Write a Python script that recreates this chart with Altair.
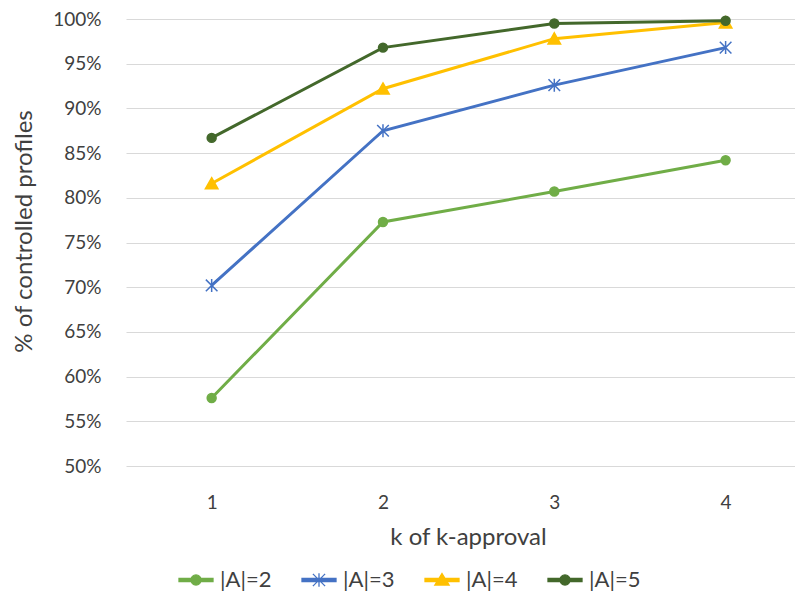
import altair as alt
import pandas as pd

k_values = [1, 2, 3, 4]
series_names = ["|A|=2", "|A|=3", "|A|=4", "|A|=5"]
a2 = [57.6, 77.3, 80.7, 84.2]
a3 = [70.2, 87.5, 92.6, 96.8]
a4 = [81.6, 92.2, 97.8, 99.6]
a5 = [86.7, 96.8, 99.5, 99.8]
colors = ["#70AD47", "#4472C4", "#FFC000", "#43682B"]
y_ticks = [0.50, 0.55, 0.60, 0.65, 0.70, 0.75, 0.80, 0.85, 0.90, 0.95, 1.00]

rows = []
for name, vals in zip(series_names, [a2, a3, a4, a5]):
    for k, v in zip(k_values, vals):
        rows.append({"k": k, "pct": v / 100.0, "series": name})
df = pd.DataFrame(rows)

FONT = "Lato"
TXT = "#404040"

# marker shapes for the plot
STAR = "M-1.3,-1.3L1.3,1.3M-1.3,1.3L1.3,-1.3M0,-1.45V1.45"
TRI = "M0,-1.3L1.4,1.2L-1.4,1.2Z"
shape_range = ["circle", STAR, TRI, "circle"]

# legend symbols: short line + marker
L_LINE = "M-1,-0.088H1V0.088H-1Z"
L_CIRC = "M-0.3,0A0.3,0.3 0 1,1 0.3,0A0.3,0.3 0 1,1 -0.3,0Z"
L_STAR = "M-0.36,-0.36L0.36,0.36M-0.36,0.36L0.36,-0.36M0,-0.4V0.4"
L_TRI = "M0,-0.38L0.42,0.3L-0.42,0.3Z"
legend_shapes = [L_LINE + L_CIRC, L_LINE + L_STAR, L_LINE + L_TRI, L_LINE + L_CIRC]

color_scale = alt.Scale(domain=series_names, range=colors)

x_enc = alt.X(
    "k:Q",
    scale=alt.Scale(domain=[0.5, 4.405], nice=False, zero=False),
    axis=alt.Axis(
        values=k_values, format="d", grid=False, domain=False, ticks=False, tickSize=0,
        labelPadding=27, title="k of k-approval", titleX=342, titleY=71,
        titleBaseline="middle",
    ),
)
y_enc = alt.Y(
    "pct:Q",
    scale=alt.Scale(domain=[0.5, 1.0], nice=False, zero=False),
    axis=alt.Axis(
        values=y_ticks, format=".0%", grid=True, domain=False, ticks=False, tickSize=0,
        labelPadding=25, title="% of controlled profiles", titleX=-102, titleY=212,
        titleBaseline="middle", titleAngle=-90,
    ),
)

lines = alt.Chart(df).mark_line(strokeWidth=3).encode(
    x=x_enc,
    y=y_enc,
    color=alt.Color("series:N", scale=color_scale, sort=series_names, legend=None),
    detail="series:N",
)

points = alt.Chart(df).mark_point(filled=True, size=80, opacity=1, strokeWidth=1.5).encode(
    x="k:Q",
    y="pct:Q",
    fill=alt.Fill("series:N", scale=color_scale, legend=None),
    stroke=alt.Stroke("series:N", scale=color_scale, legend=None),
    shape=alt.Shape("series:N", scale=alt.Scale(domain=series_names, range=shape_range), legend=None),
)

legend_props = dict(
    title=None,
    orient="none",
    direction="horizontal",
    columns=4,
    legendX=52,
    legendY=543,
    padding=0,
    symbolSize=1156,
    symbolStrokeWidth=1.3,
    symbolOpacity=1,
    labelOffset=6,
    columnPadding=27,
    gridAlign="all",
    labelFont=FONT,
    labelFontSize=22,
    labelColor=TXT,
)

legend_keys = (
    alt.Chart(df)
    .transform_filter("false")
    .mark_point(filled=True, strokeWidth=1.3, opacity=1)
    .encode(
        x="k:Q",
        y="pct:Q",
        fill=alt.Fill("series:N", scale=color_scale, legend=alt.Legend(**legend_props)),
        stroke=alt.Stroke("series:N", scale=color_scale, legend=alt.Legend(**legend_props)),
        shape=alt.Shape(
            "series:N",
            scale=alt.Scale(domain=series_names, range=legend_shapes),
            legend=alt.Legend(**legend_props),
        ),
    )
)

chart = (
    alt.layer(lines, points, legend_keys)
    .resolve_scale(shape="independent", fill="independent", stroke="independent")
    .properties(
        width=669,
        height=447,
        autosize=alt.AutoSizeParams(type="none"),
        padding={"left": 118, "top": 11, "right": 0, "bottom": 130},
    )
    .configure_view(stroke=None)
    .configure_axis(
        labelFont=FONT,
        labelFontSize=19,
        labelColor=TXT,
        titleFont=FONT,
        titleFontSize=24,
        titleFontWeight="normal",
        titleColor=TXT,
        gridColor="#D9D9D9",
        gridWidth=1,
    )
)

chart.save("out.html", embed_options={"renderer": "svg", "actions": False})
